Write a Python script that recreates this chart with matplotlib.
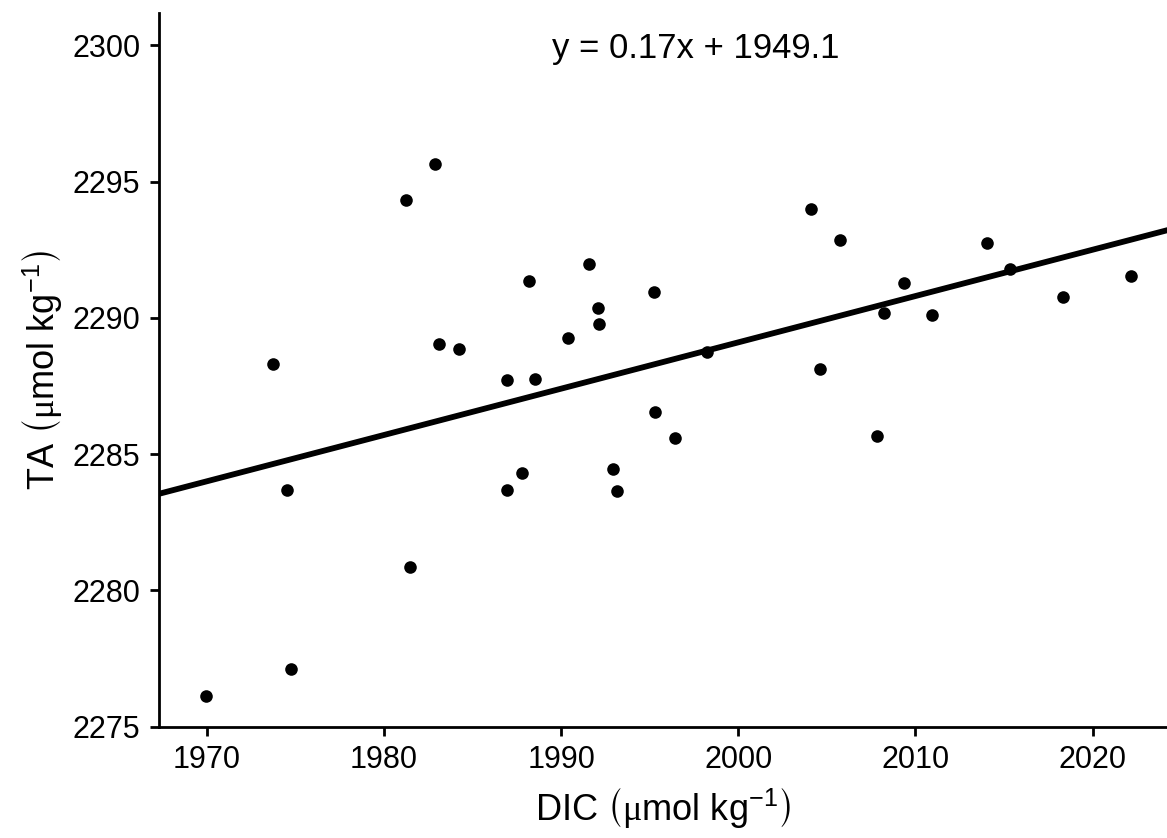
import numpy as np
import matplotlib
matplotlib.use('Agg')
import matplotlib.pyplot as plt

plt.rcParams['font.family'] = ['Liberation Sans', 'DejaVu Sans']
plt.rcParams['mathtext.fontset'] = 'custom'
plt.rcParams['mathtext.rm'] = 'Liberation Sans'
plt.rcParams['mathtext.it'] = 'Liberation Sans:italic'
plt.rcParams['mathtext.sf'] = 'Liberation Serif'
plt.rcParams['mathtext.fallback'] = 'stix'

# DIC and TA, umol/kg
dic = [1969.96, 1973.76, 1974.50, 1974.74, 1981.25, 1981.48, 1982.89, 1983.12,
       1984.26, 1986.97, 1986.97, 1987.80, 1988.16, 1988.54, 1990.38, 1991.55,
       1992.06, 1992.15, 1992.92, 1993.15, 1995.26, 1995.31, 1996.42, 1998.23,
       2004.10, 2004.59, 2005.76, 2007.83, 2008.21, 2009.33, 2010.92, 2014.04,
       2015.36, 2018.31, 2022.19]
ta = [2276.11, 2288.30, 2283.69, 2277.12, 2294.31, 2280.87, 2295.65, 2289.03,
      2288.87, 2287.71, 2283.69, 2284.29, 2291.35, 2287.77, 2289.25, 2291.98,
      2290.35, 2289.77, 2284.46, 2283.63, 2290.96, 2286.56, 2285.59, 2288.73,
      2294.01, 2288.14, 2292.87, 2285.67, 2290.19, 2291.29, 2290.10, 2292.75,
      2291.78, 2290.78, 2291.54]

slope = 0.17
intercept = 1949.1

x_ticks = [1970, 1980, 1990, 2000, 2010, 2020]
y_ticks = [2275, 2280, 2285, 2290, 2295, 2300]
xlim = (1967.3, 2024.2)
ylim = (2275.0, 2301.2)

fig = plt.figure(figsize=(11.67, 8.38), dpi=100)
ax = fig.add_axes([159 / 1167, 1 - 726.5 / 838, 1 - 159 / 1167, (726.5 - 12.7) / 838])

ax.scatter(dic, ta, s=82, color='black', zorder=3, linewidths=0)
xs = np.array(xlim)
ax.plot(xs, slope * xs + intercept, color='black', lw=4.2, zorder=2)

ax.text(1997.6, 2299.9, 'y = %.2fx + %.1f' % (slope, intercept),
        ha='center', va='center', fontsize=25)

ax.set_xlim(xlim)
ax.set_ylim(ylim)
ax.set_xticks(x_ticks)
ax.set_yticks(y_ticks)

for s in ['top', 'right']:
    ax.spines[s].set_visible(False)
for s in ['left', 'bottom']:
    ax.spines[s].set_linewidth(2.0)
ax.tick_params(direction='out', length=6.5, width=2.0, labelsize=22, pad=7)

ax.set_xlabel(r'DIC $\left(\mathsf{\mu}\mathrm{mol\ kg}^{-1}\right)$', fontsize=26, labelpad=7)
ax.set_ylabel(r'TA $\left(\mathsf{\mu}\mathrm{mol\ kg}^{-1}\right)$', fontsize=26, labelpad=6)

fig.savefig('out.png', dpi=100)
